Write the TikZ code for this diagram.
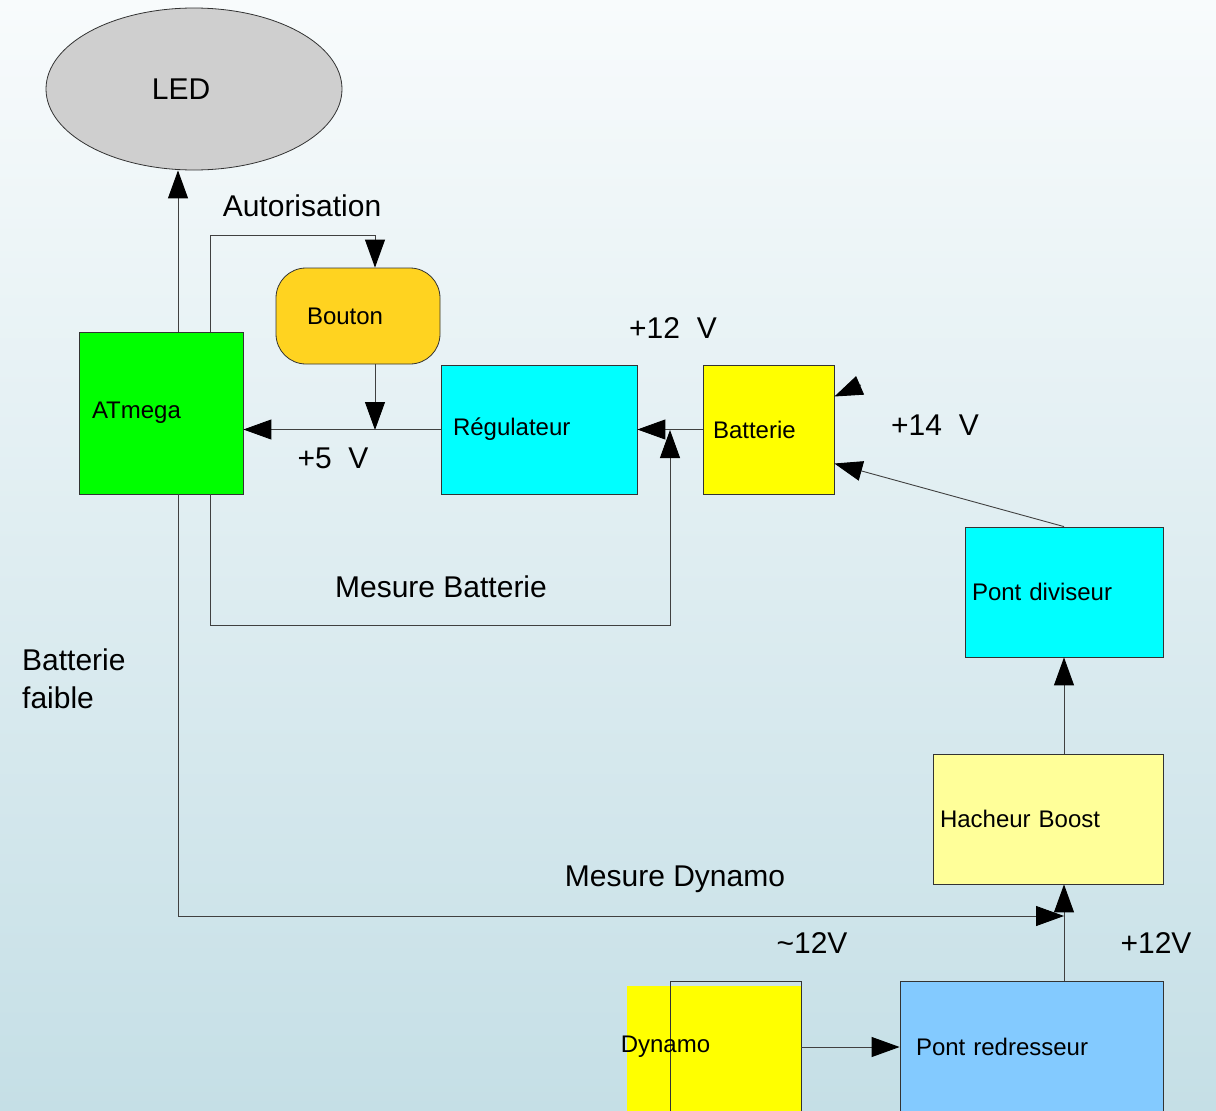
\documentclass[tikz,border=0pt]{standalone}
\usepackage{fontspec}
\setmainfont{Liberation Sans}
\usetikzlibrary{arrows.meta,shapes.geometric}

\definecolor{bgtop}{RGB}{248,251,252}
\definecolor{bgbottom}{RGB}{197,223,230}
\definecolor{atmgreen}{RGB}{0,255,0}
\definecolor{boutongold}{RGB}{255,211,32}
\definecolor{boxcyan}{RGB}{0,255,255}
\definecolor{boxyellow}{RGB}{255,255,0}
\definecolor{boostyellow}{RGB}{255,255,153}
\definecolor{redblue}{RGB}{131,202,255}
\definecolor{ledgray}{RGB}{207,207,207}

\begin{document}
\begin{tikzpicture}[x=1pt,y=-1pt]
\tikzset{block/.style = {shape=rectangle,draw=black!80,line width=0.8pt,inner ysep=0pt,align=left,font=\fontsize{24}{28}\selectfont}}
\tikzset{lbl/.style = {inner sep=0pt,font=\fontsize{30}{38}\selectfont}}
\tikzset{conn/.style = {draw=black!75,line width=0.9pt,-{Triangle[length=28pt,width=20pt,color=black]}}}
\useasboundingbox (0,0) rectangle (1216,1111);
\clip (0,0) rectangle (1216,1111);
\shade[top color=bgtop,bottom color=bgbottom] (0,0) rectangle (1216,1111);
% blocks
\node[shape=ellipse,draw=black!80,line width=0.8pt,fill=ledgray,minimum width=296pt,minimum height=162pt,font=\fontsize{30}{36}\selectfont] (led) at (194,89) {LED\kern26pt};
\node[block,fill=atmgreen,text width=138pt,inner xsep=13pt,minimum height=162pt] (atm) at (161,413) {ATmega};
\node[block,fill=boutongold,rounded corners=30pt,text width=102pt,inner xsep=31pt,minimum height=96pt] (bou) at (358,316) {Bouton};
\node[block,fill=boxcyan,text width=172pt,inner xsep=12pt,minimum height=129pt] (reg) at (539,429.5) {Régulateur};
\node[block,fill=boxyellow,text width=111pt,inner xsep=10pt,minimum height=129pt] (bat) at (768.5,429.5) {Batterie};
\node[block,fill=boxcyan,text width=184pt,inner xsep=7pt,minimum height=130pt] (div) at (1064,592) {Pont diviseur};
\node[block,fill=boostyellow,text width=216pt,inner xsep=7pt,minimum height=130pt] (hac) at (1048,819) {Hacheur Boost};
\node[block,fill=redblue,text width=231pt,inner xsep=16pt,minimum height=132pt] (red) at (1031.5,1047) {Pont redresseur};
\fill[boxyellow] (627,986) rectangle (801,1120);
\node[block,minimum width=131pt,minimum height=132pt,
  label={[anchor=west,inner sep=0pt,xshift=-49pt,font=\fontsize{24}{28}\selectfont]west:Dynamo}] (dyn) at (735.5,1047) {};
% junctions
\coordinate (j5) at (375,430);
\coordinate (jb) at (670,430);
\coordinate (mb) at (670,625);
\coordinate (jd) at (1064,916);
\coordinate (stub) at (861,385);
% connectors
\draw[conn] ([xshift=17pt]atm.north) -- ([xshift=17pt]atm.north |- led.south);
\draw[conn] ([xshift=49pt]atm.north) |- ([xshift=17pt,yshift=32pt]bou.north) -- ([xshift=17pt]bou.north);
\draw[conn] ([xshift=17pt]bou.south) -- (j5);
\draw[conn] (reg.west) -- (reg.west -| atm.east);
\draw[conn] (bat.west) -- (reg.east);
\draw[conn] ([xshift=49pt]atm.south) |- (mb) -- (jb);
\draw[conn] (stub) -- ([yshift=33pt]bat.east);
\draw[conn] (div.north) -- ([yshift=-34pt]bat.east);
\draw[conn] (hac.north -| div.south) -- (div.south);
\draw[conn] (red.north -| div.south) -- (hac.south -| div.south);
\draw[conn] ([xshift=17pt]atm.south) |- (jd);
\draw[conn] (dyn.east) -- (red.west);
% labels
\node[lbl] (autor) at (302,206) {Autorisation};
\node[lbl] (v12) at (673,328) {+12\ \ V};
\node[lbl] (v5) at (333,458) {+5\ \ V};
\node[lbl] (v14) at (935,425) {+14\ \ V};
\node[lbl] (mesbat) at (441,587) {Mesure Batterie};
\node[lbl,align=left,anchor=west] (faible) at (22,679) {Batterie\\faible};
\node[lbl] (mesdyn) at (675,879) {Mesure Dynamo};
\node[lbl] (vac) at (812,943) {\textasciitilde12V};
\node[lbl] (vdc) at (1156,943) {+12V};
\end{tikzpicture}
\end{document}
